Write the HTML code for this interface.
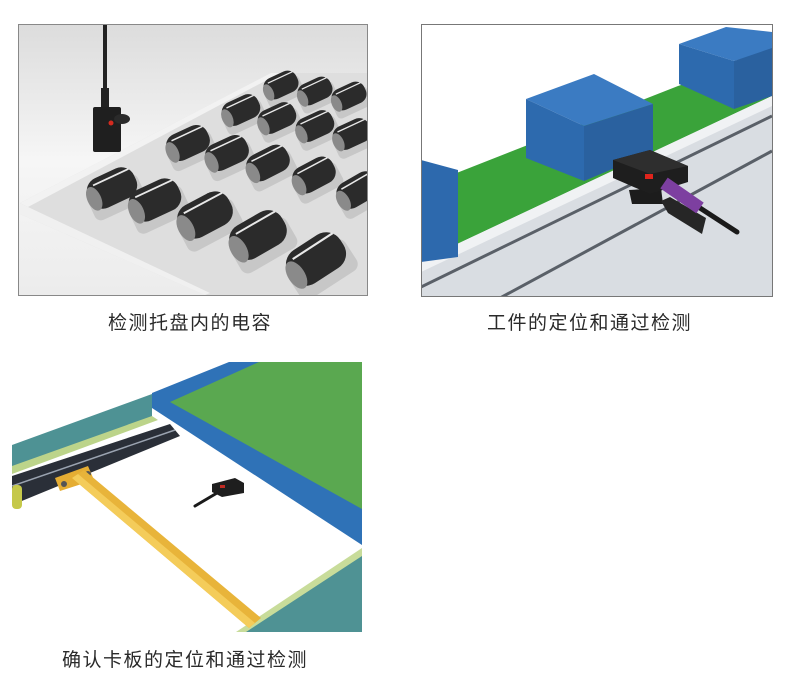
<!DOCTYPE html>
<html><head><meta charset="utf-8"><style>
html,body{margin:0;padding:0;background:#fff;width:800px;height:696px;overflow:hidden}
svg{display:block}
text{font-family:"Liberation Sans","Noto Sans CJK SC",sans-serif;font-size:19px;fill:#2a2a2a;letter-spacing:1.5px}
</style></head><body>
<svg width="800" height="696" viewBox="0 0 800 696" xmlns="http://www.w3.org/2000/svg">
<defs>
<linearGradient id="bg1" x1="0" y1="0" x2="0" y2="1"><stop offset="0" stop-color="#dcdcdc"/><stop offset="0.5" stop-color="#f6f6f6"/><stop offset="1" stop-color="#ececec"/></linearGradient>
<clipPath id="c1"><rect x="18" y="24" width="349" height="271"/></clipPath>
<clipPath id="c2"><rect x="421" y="24" width="351" height="272"/></clipPath>
<clipPath id="c3"><rect x="12" y="362" width="350" height="270"/></clipPath>
<g id="cap">
<rect x="-24" y="-4" width="48" height="26" rx="6" fill="#b8b8b8" opacity="0.6"/>
<rect x="-22" y="-14" width="44" height="28" rx="12" fill="#2b2b2b"/>
<ellipse cx="-18" cy="2" rx="6" ry="11" fill="#8a8a8a"/>
<line x1="-14" y1="-9" x2="20" y2="-9" stroke="#e8e8e8" stroke-width="1.5"/>
</g>
</defs>

<!-- Panel 1 -->
<g clip-path="url(#c1)">
<rect x="18" y="24" width="349" height="271" fill="url(#bg1)"/>
<polygon points="20,203 271,73 368,73 368,295 205,295 20,214" fill="#dedede"/>
<polygon points="20,203 271,73 280,73 28,207" fill="#f2f2f2"/>
<polygon points="20,203 28,207 210,293 205,295 20,214" fill="#f0f0f0"/>
<g transform="translate(281,85) rotate(-25) scale(0.8)"><use href="#cap"/></g>
<g transform="translate(315,91) rotate(-25) scale(0.8)"><use href="#cap"/></g>
<g transform="translate(349,96) rotate(-25) scale(0.8)"><use href="#cap"/></g>
<g transform="translate(241,110) rotate(-25) scale(0.88)"><use href="#cap"/></g>
<g transform="translate(277,118) rotate(-25) scale(0.88)"><use href="#cap"/></g>
<g transform="translate(315,126) rotate(-25) scale(0.88)"><use href="#cap"/></g>
<g transform="translate(352,134) rotate(-25) scale(0.88)"><use href="#cap"/></g>
<g transform="translate(188,143) rotate(-25) scale(1)"><use href="#cap"/></g>
<g transform="translate(227,153) rotate(-25) scale(1)"><use href="#cap"/></g>
<g transform="translate(268,163) rotate(-27) scale(1)"><use href="#cap"/></g>
<g transform="translate(314,175) rotate(-28) scale(1)"><use href="#cap"/></g>
<g transform="translate(358,190) rotate(-30) scale(1)"><use href="#cap"/></g>
<g transform="translate(112,188) rotate(-25) scale(1.15)"><use href="#cap"/></g>
<g transform="translate(155,200) rotate(-25) scale(1.2)"><use href="#cap"/></g>
<g transform="translate(205,215) rotate(-28) scale(1.28)"><use href="#cap"/></g>
<g transform="translate(258,235) rotate(-30) scale(1.33)"><use href="#cap"/></g>
<g transform="translate(316,259) rotate(-33) scale(1.4)"><use href="#cap"/></g>
<rect x="103" y="24" width="4" height="70" fill="#222"/>
<rect x="101" y="88" width="8" height="22" fill="#222"/>
<rect x="93" y="107" width="28" height="45" rx="2" fill="#1f1f1f"/>
<ellipse cx="122" cy="119" rx="8" ry="5" fill="#2a2a2a"/>
<circle cx="111" cy="123" r="2.5" fill="#d42a1f"/>
</g>
<rect x="18.5" y="24.5" width="349" height="271" fill="none" stroke="#888" stroke-width="1"/>

<!-- Panel 2 -->
<g clip-path="url(#c2)">
<rect x="421" y="24" width="351" height="272" fill="#fff"/>
<polygon points="421,187 678,86 772,55 772,96 421,261" fill="#3aa33a"/>
<polygon points="421,261 772,96 772,296 421,296" fill="#d9dde2"/>
<polygon points="421,261 772,96 772,106 421,272" fill="#f0f2f4"/>
<line x1="421" y1="287" x2="772" y2="116" stroke="#5a6068" stroke-width="3"/>
<line x1="500" y1="298" x2="772" y2="151" stroke="#5a6068" stroke-width="3"/>
<polygon points="421,160 458,170 458,257 421,262" fill="#2d69ad"/>
<polygon points="526,99 594,74 653,104 584,126" fill="#3b7bc2"/>
<polygon points="526,99 584,126 584,181 526,158" fill="#2d6aae"/>
<polygon points="584,126 653,104 653,152 584,181" fill="#2a619f"/>
<polygon points="679,44 726,27 772,32 772,50 734,61" fill="#3b7bc2"/>
<polygon points="679,44 734,61 734,109 679,84" fill="#2d6aae"/>
<polygon points="734,61 772,48 772,96 734,109" fill="#2a619f"/>
<polygon points="629,190 661,188 663,204 632,204" fill="#1c1c1c"/>
<polygon points="613,160 650,150 688,166 688,182 650,194 613,178" fill="#1e1e1e"/>
<polygon points="613,160 650,150 688,166 650,174" fill="#2e2e2e"/>
<rect x="645" y="174" width="8" height="5" fill="#e0241c"/>
<polygon points="661,201 670,197 706,218 702,234 668,213" fill="#262626"/>
<line x1="700" y1="208" x2="737" y2="232" stroke="#1a1a1a" stroke-width="5" stroke-linecap="round"/>
<line x1="664" y1="183" x2="700" y2="208" stroke="#7d3fa0" stroke-width="13"/>
</g>
<rect x="421.5" y="24.5" width="351" height="272" fill="none" stroke="#777" stroke-width="1"/>

<!-- Panel 3 -->
<g clip-path="url(#c3)">
<rect x="12" y="362" width="350" height="270" fill="#fff"/>
<polygon points="12,445 152,394 152,417 12,468" fill="#4e9294"/>
<polygon points="12,466 152,416 158,420 12,474" fill="#bcd48a"/>
<polygon points="12,476 170,424 180,436 12,505" fill="#2a2f38"/>
<line x1="12" y1="486" x2="175" y2="430" stroke="#9aa3b0" stroke-width="1.5"/>
<rect x="12" y="485" width="10" height="24" rx="4" fill="#c5c84a"/>
<polygon points="152,393 229,362 362,362 362,545 152,408" fill="#2f72b7"/>
<polygon points="170,402 259,362 362,362 362,509" fill="#5aa850"/>
<polygon points="239,632 362,551 362,632" fill="#4f9294"/>
<polygon points="236,632 362,548 362,556 246,632" fill="#c8dc9a"/>
<polygon points="55,478 88,466 94,480 60,491" fill="#e5ad33"/>
<circle cx="64" cy="484" r="3" fill="#555"/><circle cx="88" cy="474" r="3" fill="#555"/>
<polygon points="72,478 84,470 261,618 249,628" fill="#e8b43a"/>
<polygon points="72,478 78,474 255,623 249,628" fill="#f4cc5a"/>
<line x1="217" y1="493" x2="195" y2="506" stroke="#1a1a1a" stroke-width="3" stroke-linecap="round"/>
<polygon points="212,484 235,478 244,483 244,493 222,497 212,492" fill="#1e1e1e"/>
<rect x="220" y="485" width="5" height="3" fill="#c02a22"/>
</g>

<text x="108" y="329">检测托盘内的电容</text>
<text x="487" y="329">工件的定位和通过检测</text>
<text x="62" y="666">确认卡板的定位和通过检测</text>
</svg>
</body></html>
